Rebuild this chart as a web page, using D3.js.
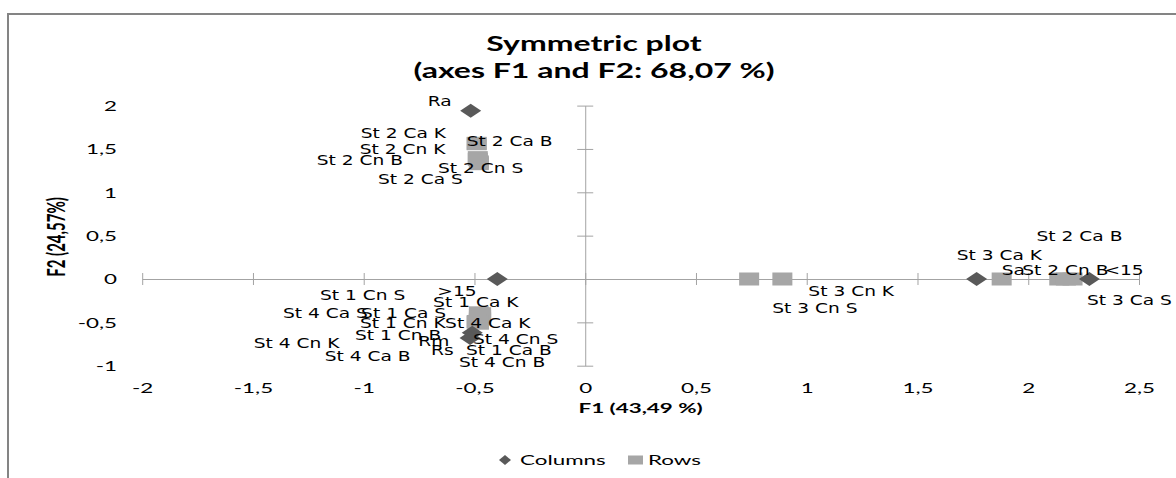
<!DOCTYPE html>
<html>
<head>
<meta charset="utf-8">
<script src="https://cdn.jsdelivr.net/npm/d3@7"></script>
<style>
  body { margin: 0; background: #fff; }
  svg { display: block; }
  .lbl { font-family: "DejaVu Sans", sans-serif; font-size: 14px; fill: #000; }
  .cal { font-family: Lato, sans-serif; fill: #000; }
</style>
</head>
<body>
<div id="chart"></div>
<script>
// columns of the table (diamonds)
const colNames = ['Ra', '>15', 'Rm', 'Rs', 'Sa', '<15'];
const colF1 = [-0.517, -0.397, -0.51, -0.52, 1.767, 2.276];
const colF2 = [1.94, 0.0, -0.62, -0.68, 0.0, 0.0];

// rows of the table (squares)
const rowNames = ['St 2 Ca K', 'St 2 Ca B', 'St 2 Cn K', 'St 2 Cn B', 'St 2 Cn S', 'St 2 Ca S',
  'St 3 Cn S', 'St 3 Cn K', 'St 3 Ca K', 'St 2 Cn B', 'St 2 Ca B', 'St 3 Ca S',
  'St 1 Cn S', 'St 1 Ca K', 'St 4 Ca S', 'St 1 Ca S', 'St 1 Cn K', 'St 4 Ca K',
  'St 1 Cn B', 'St 4 Cn S', 'St 4 Cn K', 'St 1 Ca B', 'St 4 Ca B', 'St 4 Cn B'];
const rowF1 = [-0.49, -0.49, -0.485, -0.485, -0.48, -0.48,
  0.74, 0.89, 1.88, 2.14, 2.20, 2.17,
  -0.48, -0.47, -0.48, -0.47, -0.48, -0.47,
  -0.48, -0.48, -0.49, -0.48, -0.49, -0.48];
const rowF2 = [1.565, 1.56, 1.40, 1.38, 1.33, 1.35,
  0, 0, 0, 0, 0, 0,
  -0.39, -0.40, -0.42, -0.43, -0.45, -0.46,
  -0.47, -0.48, -0.49, -0.50, -0.50, -0.51];

const xTicks = [-2, -1.5, -1, -0.5, 0, 0.5, 1, 1.5, 2, 2.5];
const xTickLabels = ['-2', '-1,5', '-1', '-0,5', '0', '0,5', '1', '1,5', '2', '2,5'];
const yTicks = [-1, -0.5, 0, 0.5, 1, 1.5, 2];
const yTickLabels = ['-1', '-0,5', '0', '0,5', '1', '1,5', '2'];

const titleLines = ['Symmetric plot', '(axes F1 and F2: 68,07 %)'];
const xTitle = 'F1 (43,49 %)';
const yTitle = 'F2 (24,57%)';
const seriesNames = ['Columns', 'Rows'];

// label placement (pixel offsets from the point, as the label layout put them)
const colLabelOff = [[-43, -10], [-60, 12], [-54, 8], [-39, 12], [25, -9], [15, -9]];
const rowLabelOff = [[-116, -10], [-10, -3], [-118, -9], [-161, 1], [-41, 4], [-101, 17],
  [23, 29], [26, 12], [-45, -24], [-37, -9], [-36, -43], [21, 21],
  [-159, -18], [-48, -12], [-196, -2], [-120, -3], [-119, 5], [-36, 4],
  [-124, 15], [-6, 18], [-223, 22], [-13, 28], [-152, 34], [-20, 39]];

const width = 1176, height = 478;
const colColor = '#595959', rowColor = '#a6a6a6', axisColor = '#a3a3a3';
const sxLbl = 1.33, sxCal = 1.6;

const svg = d3.select('#chart').append('svg')
  .attr('width', width).attr('height', height);

// chart frame
svg.append('rect')
  .attr('x', 8).attr('y', 14).attr('width', 1200).attr('height', 500)
  .attr('fill', '#fff').attr('stroke', '#848484').attr('stroke-width', 2);

const x = d3.scaleLinear().domain([-2, 2.5]).range([142.2, 1139]);
const y = d3.scaleLinear().domain([-1, 2]).range([365.7, 105.6]);

// stretched text helper
function stext(g, px, py, txt, cls, size, weight, sx, anchor) {
  return g.append('text')
    .attr('class', cls)
    .attr('transform', `translate(${px},${py}) scale(${sx},1)`)
    .attr('font-size', size)
    .attr('font-weight', weight)
    .attr('text-anchor', anchor)
    .attr('dy', '0.35em')
    .text(txt);
}

// title
titleLines.forEach((t, i) => {
  stext(svg, 594, 44 + i * 27, t, 'cal', 20, 'bold', sxCal, 'middle');
});

// x axis line with crossing ticks
const gx = svg.append('g')
  .attr('transform', `translate(0,${y(0)})`)
  .call(d3.axisBottom(x).tickValues(xTicks).tickSize(6).tickSizeOuter(0).tickFormat(''));
gx.select('.domain').attr('stroke', axisColor);
gx.selectAll('.tick line').attr('y1', -6).attr('y2', 6).attr('stroke', axisColor);

// y axis line with crossing ticks
const gy = svg.append('g')
  .attr('transform', `translate(${x(0)},0)`)
  .call(d3.axisLeft(y).tickValues(yTicks).tickSize(7).tickSizeOuter(0).tickFormat(''));
gy.select('.domain').attr('stroke', axisColor);
gy.selectAll('.tick line').attr('x1', -8).attr('x2', 8).attr('stroke', axisColor);

// tick labels sit at the low end of the axes
const gxl = svg.append('g')
  .attr('transform', 'translate(0,388)')
  .call(d3.axisBottom(x).tickValues(xTicks).tickSize(0).tickPadding(0)
    .tickFormat((d, i) => xTickLabels[i]));
gxl.select('.domain').remove();
gxl.selectAll('text')
  .attr('class', 'cal').attr('font-size', 14).attr('font-family', null)
  .attr('y', 0).attr('dy', '0.35em')
  .attr('transform', `scale(${sxCal},1)`)
  .attr('x', 0);

const gyl = svg.append('g')
  .attr('transform', 'translate(117,0)')
  .call(d3.axisLeft(y).tickValues(yTicks).tickSize(0).tickPadding(0)
    .tickFormat((d, i) => yTickLabels[i]));
gyl.select('.domain').remove();
gyl.selectAll('text')
  .attr('class', 'cal').attr('font-size', 14).attr('font-family', null)
  .attr('x', 0).attr('dy', '0.35em')
  .attr('transform', `scale(${sxCal},1)`);

// axis titles
stext(svg, x(0.25), 408, xTitle, 'cal', 14, 'bold', sxCal, 'middle');
svg.append('text')
  .attr('class', 'cal')
  .attr('transform', `translate(57,237) rotate(-90) scale(1,${sxCal})`)
  .attr('font-size', 15).attr('font-weight', 'bold')
  .attr('text-anchor', 'middle').attr('dy', '0.35em')
  .text(yTitle);

// points
const rows = rowNames.map((n, i) => ({ name: n, f1: rowF1[i], f2: rowF2[i], off: rowLabelOff[i] }));
const cols = colNames.map((n, i) => ({ name: n, f1: colF1[i], f2: colF2[i], off: colLabelOff[i] }));

svg.append('g').selectAll('rect')
  .data(rows).enter().append('rect')
  .attr('x', d => x(d.f1) - 10)
  .attr('y', d => y(d.f2) - 6.5)
  .attr('width', 20).attr('height', 13)
  .attr('fill', rowColor);

const diamond = 'M-10.5,0L0,-7L10.5,0L0,7Z';
svg.append('g').selectAll('path')
  .data(cols).enter().append('path')
  .attr('d', diamond)
  .attr('transform', d => `translate(${x(d.f1)},${y(d.f2)})`)
  .attr('fill', colColor);

// point labels
const gLbl = svg.append('g');
rows.concat(cols).forEach(d => {
  stext(gLbl, x(d.f1) + d.off[0], y(d.f2) + d.off[1], d.name, 'lbl', 14, 'normal', sxLbl, 'start');
});

// legend
const lg = svg.append('g');
lg.append('path').attr('d', 'M-6,0L0,-5L6,0L0,5Z')
  .attr('transform', 'translate(505,460)').attr('fill', colColor);
stext(lg, 520, 460, seriesNames[0], 'cal', 14, 'normal', sxCal, 'start');
lg.append('rect').attr('x', 628).attr('y', 455.5).attr('width', 15).attr('height', 9)
  .attr('fill', rowColor);
stext(lg, 648, 460, seriesNames[1], 'cal', 14, 'normal', sxCal, 'start');
</script>
</body>
</html>
